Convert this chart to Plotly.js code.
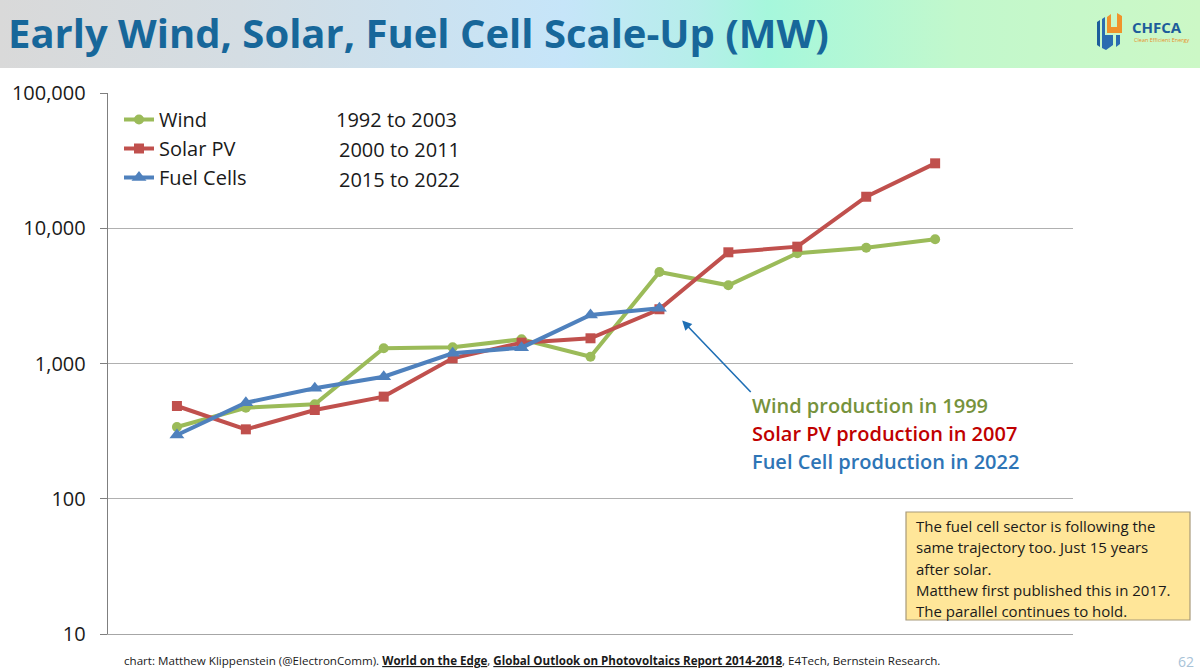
<!DOCTYPE html>
<html>
<head>
<meta charset="utf-8">
<script src="https://cdn.plot.ly/plotly-3.0.1.min.js"></script>
<style>
  html, body { margin: 0; padding: 0; background: #ffffff; }
  #chart { width: 1200px; height: 671px; }
</style>
</head>
<body>
<div id="chart"></div>
<script>
// ---- Data ----
var positions = [1, 2, 3, 4, 5, 6, 7, 8, 9, 10, 11, 12];
var windValues = [339, 471, 499, 1295, 1318, 1510, 1122, 4750, 3785, 6530, 7180, 8290];
var solarValues = [485, 326, 453, 569, 1092, 1426, 1536, 2518, 6640, 7310, 17100, 30200];
var fuelCellValues = [296, 513, 656, 798, 1190, 1309, 2284, 2560];
var seriesNames = ["Wind", "Solar PV", "Fuel Cells"];
var seriesRanges = ["1992 to 2003", "2000 to 2011", "2015 to 2022"];
var yTickValues = [10, 100, 1000, 10000, 100000];
var yTickLabels = ["10", "100", "1,000", "10,000", "100,000"];
var calloutLines = ["Wind production in 1999", "Solar PV production in 2007", "Fuel Cell production in 2022"];
var noteLines = ["The fuel cell sector is following the", "same trajectory too. Just 15 years", "after solar.", "Matthew first published this in 2017.", "The parallel continues to hold."];

// ---- Layout helpers (pixel -> paper) ----
var L = 108, R = 127, T = 93, B = 37, W = 1200, H = 671;
var PW = W - L - R, PH = H - T - B;
function px(x) { return (x - L) / PW; }
function py(y) { return (H - B - y) / PH; }

var colors = { wind: "#9bbb59", solar: "#c0504d", fuel: "#4f81bd" };
var FONT = "Open Sans, Noto Sans, DejaVu Sans, sans-serif";

var traces = [
  { x: positions.slice(0, windValues.length), y: windValues, name: seriesNames[0], mode: "lines+markers",
    line: { color: colors.wind, width: 4 }, marker: { symbol: "circle", size: 10, color: colors.wind } },
  { x: positions.slice(0, solarValues.length), y: solarValues, name: seriesNames[1], mode: "lines+markers",
    line: { color: colors.solar, width: 4 }, marker: { symbol: "square", size: 10, color: colors.solar } },
  { x: positions.slice(0, fuelCellValues.length), y: fuelCellValues, name: seriesNames[2], mode: "lines+markers",
    line: { color: colors.fuel, width: 4 }, marker: { symbol: "triangle-up", size: 13, color: colors.fuel } }
];

var gradSvg = "<svg xmlns='http://www.w3.org/2000/svg' width='1200' height='68' viewBox='0 0 1200 68' preserveAspectRatio='none'>" +
  "<defs><linearGradient id='g' x1='0' x2='1' y1='0' y2='0'>" +
  "<stop offset='0' stop-color='#d9d9d9'/>" +
  "<stop offset='0.2' stop-color='#d4dde3'/>" +
  "<stop offset='0.47' stop-color='#c6e5f9'/>" +
  "<stop offset='0.58' stop-color='#b6eeea'/>" +
  "<stop offset='0.64' stop-color='#a6f7dc'/>" +
  "<stop offset='0.8' stop-color='#c2f8cc'/>" +
  "<stop offset='1' stop-color='#ccf8c6'/>" +
  "</linearGradient></defs><rect x='0' y='0' width='1200' height='68' fill='url(#g)'/></svg>";

var annotations = [];
// Title
annotations.push({ xref: "paper", yref: "paper", x: px(6), y: py(33), xanchor: "left", yanchor: "middle",
  text: "<b>Early Wind, Solar, Fuel Cell Scale-Up (MW)</b>", showarrow: false,
  font: { family: FONT, size: 40, color: "#17679a" } });
// Logo text
annotations.push({ xref: "paper", yref: "paper", x: px(1130), y: py(27), xanchor: "left", yanchor: "middle",
  text: "<b>CHFCA</b>", showarrow: false, font: { family: FONT, size: 15, color: "#1d5d9b" } });
annotations.push({ xref: "paper", yref: "paper", x: px(1132), y: py(40), xanchor: "left", yanchor: "middle",
  text: "Clean Efficient Energy", showarrow: false, font: { family: FONT, size: 5.5, color: "#e8902a" } });
// Legend ranges
var legendY = [119, 149, 179];
var rangeX = [334, 337, 337];
for (var i = 0; i < seriesRanges.length; i++) {
  annotations.push({ xref: "paper", yref: "paper", x: px(rangeX[i]), y: py(legendY[i]), xanchor: "left", yanchor: "middle",
    text: seriesRanges[i], showarrow: false, font: { family: FONT, size: 20, color: "#1a1a1a" } });
}
// Arrow
annotations.push({ xref: "x", yref: "y", x: 8.33, y: Math.log10(2080), ax: 70, ay: 73,
  showarrow: true, arrowhead: 2, arrowsize: 1.2, arrowwidth: 1.6, arrowcolor: "#1f6fb5", text: "" });
// Callout lines
var calloutColors = ["#76923c", "#c00000", "#2e75b6"];
var calloutY = [405, 433, 461];
for (var j = 0; j < calloutLines.length; j++) {
  annotations.push({ xref: "paper", yref: "paper", x: px(750), y: py(calloutY[j]), xanchor: "left", yanchor: "middle",
    text: calloutLines[j], showarrow: false, font: { family: FONT, size: 20, weight: 600, color: calloutColors[j] } });
}
// Note box text (one annotation per line for Office-like spacing)
for (var k = 0; k < noteLines.length; k++) {
  annotations.push({ xref: "paper", yref: "paper", x: px(914), y: py(526 + k * 21.3), xanchor: "left", yanchor: "middle", align: "left",
    text: noteLines[k], showarrow: false, font: { family: FONT, size: 15, color: "#1a1a1a" } });
}
// Footer
annotations.push({ xref: "paper", yref: "paper", x: px(122), y: py(660), xanchor: "left", yanchor: "middle",
  text: "chart: Matthew Klippenstein (@ElectronComm). <b><span style='text-decoration:underline'>World on the Edge</span></b>, <b><span style='text-decoration:underline'>Global Outlook on Photovoltaics Report 2014-2018</span></b>, E4Tech, Bernstein Research.",
  showarrow: false, font: { family: FONT, size: 11.6, color: "#1a1a1a" } });
// Page number
annotations.push({ xref: "paper", yref: "paper", x: px(1186), y: py(661), xanchor: "center", yanchor: "middle",
  text: "62", showarrow: false, font: { family: FONT, size: 14, color: "#a8c3d8" } });

var shapes = [
  // note box
  { type: "rect", xref: "paper", yref: "paper", x0: px(906), x1: px(1190), y0: py(620), y1: py(512),
    fillcolor: "#ffe699", line: { color: "#a89a7a", width: 1.2 }, layer: "above" },
  // logo icon - blue parts
  { type: "path", xref: "paper", yref: "paper", layer: "above",
    path: "M " + px(1097) + "," + py(22) + " L " + px(1100) + "," + py(20) + " L " + px(1100) + "," + py(47) + " L " + px(1097) + "," + py(45) + " Z",
    fillcolor: "#1d5d9b", line: { width: 0 } },
  { type: "path", xref: "paper", yref: "paper", layer: "above",
    path: "M " + px(1102) + "," + py(19) + " L " + px(1105) + "," + py(17) + " L " + px(1105) + "," + py(35) + " L " + px(1113) + "," + py(35) +
      " L " + px(1113) + "," + py(45) + " L " + px(1106) + "," + py(50) + " L " + px(1102) + "," + py(48) + " Z",
    fillcolor: "#2b6cb0", line: { width: 0 } },
  // logo icon - orange parts
  { type: "path", xref: "paper", yref: "paper", layer: "above",
    path: "M " + px(1107) + "," + py(17) + " L " + px(1111) + "," + py(14) + " L " + px(1111) + "," + py(27) + " L " + px(1117) + "," + py(27) +
      " L " + px(1117) + "," + py(13) + " L " + px(1122) + "," + py(16) + " L " + px(1122) + "," + py(33) + " L " + px(1107) + "," + py(33) + " Z",
    fillcolor: "#f0932b", line: { width: 0 } },
  { type: "path", xref: "paper", yref: "paper", layer: "above",
    path: "M " + px(1116) + "," + py(35) + " L " + px(1120) + "," + py(35) + " L " + px(1120) + "," + py(44) + " L " + px(1116) + "," + py(47) + " Z",
    fillcolor: "#2b6cb0", line: { width: 0 } }
];

var layout = {
  width: W, height: H,
  margin: { l: L, r: R, t: T, b: B, pad: 0 },
  paper_bgcolor: "#ffffff", plot_bgcolor: "#ffffff",
  font: { family: FONT, color: "#1a1a1a" },
  showlegend: true,
  legend: { x: px(119), y: py(100), xanchor: "left", yanchor: "top", bgcolor: "rgba(0,0,0,0)",
    font: { family: FONT, size: 20, color: "#1a1a1a" }, itemwidth: 30, tracegroupgap: 0 },
  xaxis: { range: [0, 14], showgrid: false, zeroline: false, showticklabels: false, ticks: "",
    showline: true, linecolor: "#a6a6a6", linewidth: 1.3, fixedrange: true },
  yaxis: { type: "log", range: [1, 5], tickvals: yTickValues, ticktext: yTickLabels,
    showgrid: true, gridcolor: "#b0b0b0", gridwidth: 1.3, zeroline: false,
    showline: true, linecolor: "#7f7f7f", linewidth: 1.3, ticks: "outside", ticklen: 7, tickcolor: "#7f7f7f",
    ticklabelstandoff: 10, tickfont: { family: FONT, size: 20, color: "#1a1a1a" }, fixedrange: true },
  images: [{ source: "data:image/svg+xml;charset=utf-8," + encodeURIComponent(gradSvg),
    xref: "paper", yref: "paper", x: px(0), y: py(0), sizex: W / PW, sizey: 68 / PH,
    xanchor: "left", yanchor: "top", sizing: "stretch", layer: "below" }],
  annotations: annotations,
  shapes: shapes
};

Plotly.newPlot("chart", traces, layout, { displayModeBar: false, staticPlot: true });
</script>
</body>
</html>
